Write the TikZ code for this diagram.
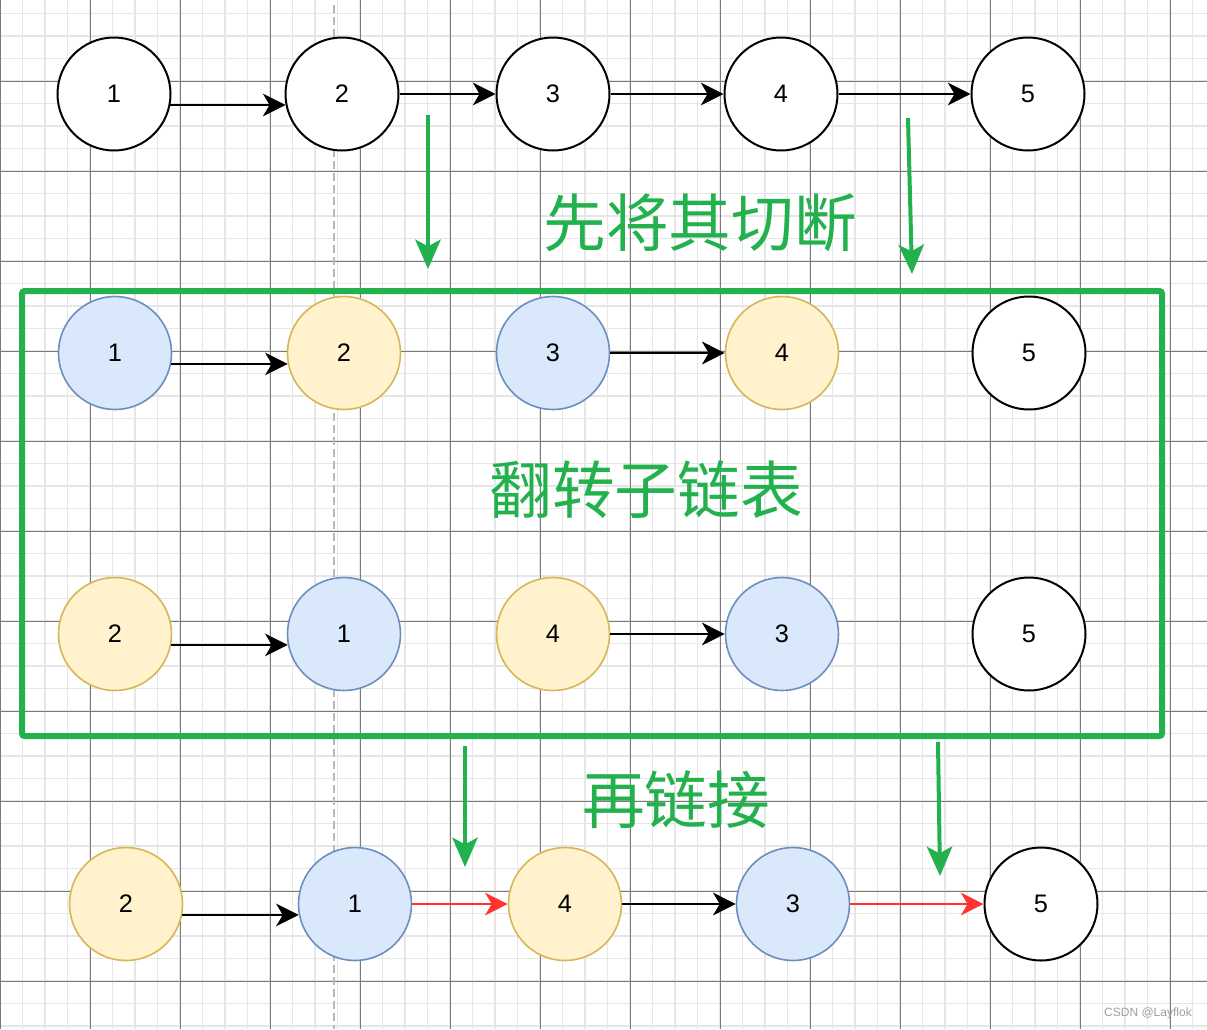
\documentclass[tikz,border=0pt]{standalone}
\usepackage{fontspec}
\setmainfont{Liberation Sans}
\newfontfamily\cjk{Noto Sans CJK SC}
\usetikzlibrary{arrows.meta, calc}
\definecolor{gridminor}{HTML}{E6E6E6}
\definecolor{gridmajor}{HTML}{7A7A7A}
\definecolor{listgreen}{HTML}{22B14C}
\definecolor{blueFill}{HTML}{DAE8FC}
\definecolor{blueLine}{HTML}{6C8EBF}
\definecolor{yellowFill}{HTML}{FFF2CC}
\definecolor{yellowLine}{HTML}{D6B656}
\definecolor{linkred}{HTML}{FF3333}
\tikzstyle{plain} = [circle, minimum size=84.75pt, inner sep=0pt, line width=1.5pt, draw=black, fill=white, font=\fontsize{19}{21}\selectfont]
\tikzstyle{bluenode} = [plain, line width=1.2pt, draw=blueLine, fill=blueFill]
\tikzstyle{yellownode} = [plain, line width=1.2pt, draw=yellowLine, fill=yellowFill]
\tikzstyle{arrow} = [line width=1.5pt, -{Stealth[length=17pt, width=17pt, inset=5pt]}]
\tikzstyle{redarrow} = [line width=1.1pt, draw=linkred, -{Stealth[length=17pt, width=17pt, inset=5pt, fill=linkred]}]
\tikzstyle{greenarrow} = [line width=3pt, draw=listgreen, -{Stealth[length=22pt, width=19pt, inset=5pt]}]
\tikzstyle{frame} = [line width=4.5pt, draw=listgreen, rounded corners=2pt]
\tikzstyle{caption} = [text=listgreen, font=\cjk\fontsize{47}{50}\selectfont]
\begin{document}
\begin{tikzpicture}[x=0.75pt, y=-0.75pt]
	\useasboundingbox (0,0) rectangle (1207,1029);
	\fill[white] (0,0) rectangle (1207,1029);
	% grid
	\foreach \i in {0,...,53} \draw[gridminor, line width=0.9pt] (\i*22.5,0) -- (\i*22.5,1029);
	\foreach \i in {0,...,45} \draw[gridminor, line width=0.9pt] (0,13.5+\i*22.5) -- (1207,13.5+\i*22.5);
	\foreach \i in {0,...,13} \draw[gridmajor, line width=0.6pt] (\i*90,0) -- (\i*90,1029);
	\foreach \i in {0,...,10} \draw[gridmajor, line width=0.6pt] (0,81+\i*90) -- (1207,81+\i*90);
	\draw[gray!55, line width=0.9pt, dash pattern=on 6pt off 3pt] (334,5) -- (334,1029);
	\draw[frame] (22,291) rectangle (1162,736);
	
	\node (Top1) [plain] at (114,94) {1};
	\node (Top2) [plain] at (342,94) {2};
	\node (Top3) [plain] at (553,94) {3};
	\node (Top4) [plain] at (781,94) {4};
	\node (Top5) [plain] at (1028,94) {5};
	
	\node (Cut1) [bluenode] at (115,353) {1};
	\node (Cut2) [yellownode] at (344,353) {2};
	\node (Cut3) [bluenode] at (553,353) {3};
	\node (Cut4) [yellownode] at (782,353) {4};
	\node (Cut5) [plain] at (1029,353) {5};
	
	\node (Rev2) [yellownode] at (115,634) {2};
	\node (Rev1) [bluenode] at (344,634) {1};
	\node (Rev4) [yellownode] at (553,634) {4};
	\node (Rev3) [bluenode] at (782,634) {3};
	\node (Rev5) [plain] at (1029,634) {5};
	
	\node (Link2) [yellownode] at (126,904) {2};
	\node (Link1) [bluenode] at (355,904) {1};
	\node (Link4) [yellownode] at (565,904) {4};
	\node (Link3) [bluenode] at (793,904) {3};
	\node (Link5) [plain] at (1041,904) {5};
	
	\node (CutText) [caption] at (700,223) {先将其切断};
	\node (FlipText) [caption] at (646,490) {翻转子链表};
	\node (LinkText) [caption] at (676,800) {再链接};
	\node (Mark) [text=gray!75, font=\fontsize{9}{10}\selectfont] at (1148,1013) {CSDN @Layflok};
	
	\coordinate (CutFrom1) at (428,115);
	\coordinate (CutTo1) at (428,269);
	\coordinate (CutFrom2) at (908,118);
	\coordinate (CutTo2) at (912,274);
	\coordinate (LinkFrom1) at (465,746);
	\coordinate (LinkTo1) at (465,867);
	\coordinate (LinkFrom2) at (938,742);
	\coordinate (LinkTo2) at (940,876);
	
	\draw [arrow] (Top1.-11) -- (Top2.191);
	\draw [arrow] (Top2) -- (Top3);
	\draw [arrow] (Top3) -- (Top4);
	\draw [arrow] (Top4) -- (Top5);
	\draw [arrow] (Cut1.-11) -- (Cut2.191);
	\draw [arrow] (Cut3) -- (Cut4);
	\draw [arrow] (Rev2.-11) -- (Rev1.191);
	\draw [arrow] (Rev4) -- (Rev3);
	\draw [arrow] (Link2.-11) -- (Link1.191);
	\draw [redarrow] (Link1) -- (Link4);
	\draw [arrow] (Link4) -- (Link3);
	\draw [redarrow] (Link3) -- (Link5);
	
	\draw [greenarrow] (CutFrom1) -- (CutTo1);
	\draw [greenarrow] (CutFrom2) -- (CutTo2);
	\draw [greenarrow] (LinkFrom1) -- (LinkTo1);
	\draw [greenarrow] (LinkFrom2) -- (LinkTo2);
	
\end{tikzpicture}
\end{document}
